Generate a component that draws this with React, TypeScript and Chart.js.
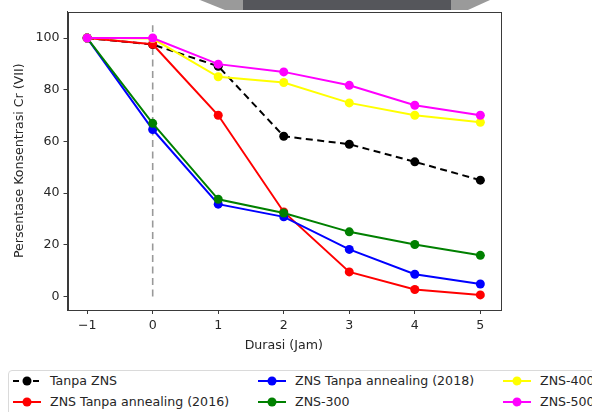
import React, { useEffect, useRef } from "react";
import { Chart, registerables } from "chart.js";

Chart.register(...registerables);

const durations = [-1, 0, 1, 2, 3, 4, 5];
const xTickValues = [-1, 0, 1, 2, 3, 4, 5];
const yTickValues = [0, 20, 40, 60, 80, 100];

const tanpaZns = [100, 97.5, 89.1, 62.0, 58.9, 52.1, 45.0];
const zns2016 = [100, 97.6, 70.1, 32.7, 9.5, 2.7, 0.6];
const zns2018 = [100, 64.6, 35.7, 30.8, 18.2, 8.6, 4.8];
const zns300 = [100, 67.0, 37.6, 32.3, 25.0, 20.1, 15.9];
const zns400 = [100, 99.8, 85.0, 82.8, 74.9, 70.1, 67.4];
const zns500 = [100, 100, 89.9, 86.9, 81.7, 74.0, 70.1];

const seriesNames = [
  "Tanpa ZNS",
  "ZNS Tanpa annealing (2016)",
  "ZNS Tanpa annealing (2018)",
  "ZNS-300",
  "ZNS-400",
  "ZNS-500",
];
const seriesValues = [tanpaZns, zns2016, zns2018, zns300, zns400, zns500];
const seriesColors = ["#000000", "#ff0000", "#0000ff", "#008000", "#ffff00", "#ff00ff"];
const seriesDashed = [true, false, false, false, false, false];

const markerLineX = [0];
const markerLineY = [0, 105];

const FONT = "'DejaVu Sans', sans-serif";
const TEXT = "#262626";
const AXIS = "#3a3a3a";
const FS = 12.6;

const fmt = (v: number) => (v < 0 ? "\u2212" + Math.abs(v) : String(v));

const boxPlugin = {
  id: "box",
  afterDraw(chart: any) {
    const { ctx, chartArea } = chart;
    ctx.save();
    ctx.strokeStyle = AXIS;
    ctx.lineWidth = 1;
    ctx.strokeRect(
      Math.round(chartArea.left) + 0.5,
      Math.round(chartArea.top) + 0.5,
      Math.round(chartArea.right - chartArea.left),
      Math.round(chartArea.bottom - chartArea.top)
    );
    ctx.restore();
  },
};

function LegendMarker({ color, dashed }: { color: string; dashed: boolean }) {
  return (
    <svg width={30} height={12} style={{ display: "block" }}>
      <line
        x1={1}
        y1={6}
        x2={29}
        y2={6}
        stroke={color}
        strokeWidth={2}
        strokeDasharray={dashed ? "6 4" : undefined}
      />
      <circle cx={15} cy={6} r={4.5} fill={color} />
    </svg>
  );
}

export default function App() {
  const canvasRef = useRef<HTMLCanvasElement | null>(null);

  useEffect(() => {
    if (!canvasRef.current) return;
    const datasets: any[] = seriesNames.map((name, i) => ({
      label: name,
      data: durations.map((x, j) => ({ x, y: seriesValues[i][j] })),
      borderColor: seriesColors[i],
      backgroundColor: seriesColors[i],
      pointBackgroundColor: seriesColors[i],
      pointBorderColor: seriesColors[i],
      pointRadius: 4.5,
      pointBorderWidth: 0,
      borderWidth: 2,
      borderDash: seriesDashed[i] ? [7, 4.5] : [],
      fill: false,
      tension: 0,
      order: seriesNames.length - 1 - i,
    }));
    datasets.push({
      label: "vline",
      data: markerLineY.map((y) => ({ x: markerLineX[0], y })),
      borderColor: "#999999",
      borderWidth: 1.6,
      borderDash: [7, 4.5],
      pointRadius: 0,
      fill: false,
      order: 10,
    });

    const chart = new Chart(canvasRef.current, {
      type: "line",
      data: { datasets },
      plugins: [boxPlugin],
      options: {
        animation: false,
        responsive: false,
        maintainAspectRatio: false,
        layout: { padding: { left: 0, top: 11, right: 92, bottom: 52 } },
        plugins: {
          legend: { display: false },
          tooltip: { enabled: false },
        },
        scales: {
          x: {
            type: "linear",
            min: -1.3,
            max: 5.3,
            afterFit: (s: any) => {
              s.height = 50;
            },
            afterBuildTicks: (s: any) => {
              s.ticks = xTickValues.map((v) => ({ value: v }));
            },
            grid: {
              drawOnChartArea: false,
              drawTicks: true,
              tickLength: 4,
              color: AXIS,
            },
            border: { display: true, color: AXIS },
            ticks: {
              color: TEXT,
              font: { family: FONT, size: FS },
              padding: 4,
              maxRotation: 0,
              autoSkip: false,
              callback: (v: any) => fmt(Number(v)),
            },
            title: {
              display: true,
              text: "Durasi (Jam)",
              color: TEXT,
              font: { family: FONT, size: FS },
              padding: { top: 0, bottom: 6.5 },
            },
          },
          y: {
            type: "linear",
            min: -5.25,
            max: 110.25,
            afterFit: (s: any) => {
              s.width = 67.5;
            },
            afterBuildTicks: (s: any) => {
              s.ticks = yTickValues.map((v) => ({ value: v }));
            },
            grid: {
              drawOnChartArea: false,
              drawTicks: true,
              tickLength: 4,
              color: AXIS,
            },
            border: { display: true, color: AXIS },
            ticks: {
              color: TEXT,
              font: { family: FONT, size: FS },
              padding: 4,
              autoSkip: false,
              callback: (v: any) => fmt(Number(v)),
            },
            title: {
              display: true,
              text: "Persentase Konsentrasi Cr (VII)",
              color: TEXT,
              font: { family: FONT, size: FS },
              padding: { top: 12.5, bottom: 0 },
            },
          },
        },
      },
    });
    return () => chart.destroy();
  }, []);

  const legendCols = [12, 257, 502];

  return (
    <div
      style={{
        position: "fixed",
        left: 0,
        top: 0,
        width: 592,
        height: 412,
        overflow: "hidden",
        background: "#ffffff",
        fontFamily: FONT,
      }}
    >
      <div
        style={{
          position: "absolute",
          left: 200,
          top: 0,
          width: 290,
          height: 10,
          background: "#9a9a9a",
          clipPath: "polygon(0 0, 100% 0, 92.4% 100%, 8.6% 100%)",
        }}
      />
      <div
        style={{
          position: "absolute",
          left: 243,
          top: 0,
          width: 208,
          height: 10,
          background: "#55565b",
        }}
      />
      <canvas
        ref={canvasRef}
        width={592}
        height={412}
        style={{ position: "absolute", left: 0, top: 0, width: 592, height: 412 }}
      />
      <div
        style={{
          position: "absolute",
          left: 8,
          top: 370,
          width: 640,
          height: 60,
          border: "1px solid #dadada",
          borderRadius: 4,
          background: "#ffffff",
        }}
      />
      {seriesNames.map((name, i) => {
        const col = Math.floor(i / 2);
        const row = i % 2;
        return (
          <div
            key={name}
            style={{
              position: "absolute",
              left: legendCols[col],
              top: 381 + row * 21 - 7,
              height: 14,
              display: "flex",
              alignItems: "center",
              whiteSpace: "nowrap",
              fontSize: FS,
              color: TEXT,
              lineHeight: "14px",
            }}
          >
            <LegendMarker color={seriesColors[i]} dashed={seriesDashed[i]} />
            <span style={{ marginLeft: 8 }}>{name}</span>
          </div>
        );
      })}
    </div>
  );
}
